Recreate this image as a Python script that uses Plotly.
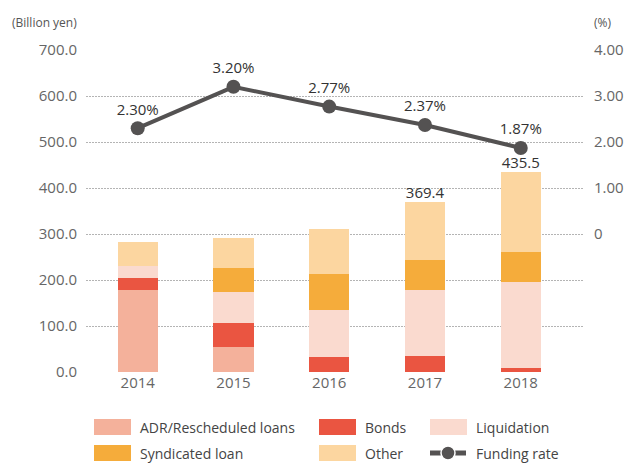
import plotly.graph_objects as go

years = ["2014", "2015", "2016", "2017", "2018"]
adr = [178, 54, 0, 0, 0]
bonds = [26, 52, 33, 34, 8]
liquidation = [27, 67, 101, 144, 187]
syndicated = [0, 54, 78, 65, 65]
other = [51, 64, 99, 126.4, 175.5]
funding_rate = [2.30, 3.20, 2.77, 2.37, 1.87]
total_label_years = ["2017", "2018"]

left_ticks = [0, 100, 200, 300, 400, 500, 600, 700]
right_ticks = [0, 1, 2, 3, 4]
right_ticktext = ["0", "1.00", "2.00", "3.00", "4.00"]

colors = {
    "ADR/Rescheduled loans": "#F4B19B",
    "Bonds": "#EA5541",
    "Liquidation": "#FADACF",
    "Syndicated loan": "#F5AC3B",
    "Other": "#FCD6A0",
}
line_color = "#545252"
FONT = "Open Sans"

W, H = 626, 463
L, R, T, B = 86, 583, 50, 372

fig = go.Figure()
series = [
    ("ADR/Rescheduled loans", adr),
    ("Bonds", bonds),
    ("Liquidation", liquidation),
    ("Syndicated loan", syndicated),
    ("Other", other),
]
for name, vals in series:
    fig.add_trace(go.Bar(x=years, y=vals, name=name, marker_color=colors[name],
                         marker_line_width=0, width=0.42, showlegend=False,
                         hoverinfo="y+name"))

totals = [round(sum(v), 1) for v in zip(adr, bonds, liquidation, syndicated, other)]
tx = [y for y in years if y in total_label_years]
ty = [t for y, t in zip(years, totals) if y in total_label_years]
fig.add_trace(go.Scatter(x=tx, y=ty, mode="text", text=[f"{v:.1f}" for v in ty],
                         textposition="top center", showlegend=False,
                         textfont=dict(family=FONT, size=15, color="#333333")))

fig.add_trace(go.Scatter(x=years, y=funding_rate, yaxis="y2", mode="lines+markers+text",
                         name="Funding rate", line=dict(color=line_color, width=4),
                         marker=dict(size=14, color=line_color),
                         text=[f"{v:.2f}%" for v in funding_rate],
                         textposition="top center",
                         textfont=dict(family=FONT, size=15, color="#333333"),
                         showlegend=False))

fig.update_layout(
    width=W, height=H,
    margin=dict(l=L, r=W - R, t=T, b=H - B, autoexpand=False),
    barmode="stack",
    plot_bgcolor="white", paper_bgcolor="white",
    font=dict(family=FONT, size=15, color="#666666"),
    xaxis=dict(range=[-0.54, 4.65], showgrid=False, showline=False, ticks="",
               automargin=False, tickfont=dict(size=15, color="#666666")),
    yaxis=dict(range=[0, 700], tickvals=left_ticks,
               ticktext=[f"{v:.1f}" for v in left_ticks],
               showgrid=True, gridcolor="#B4B4B4", griddash="1.5px,1.5px", gridwidth=1,
               zeroline=True, zerolinecolor="rgba(0,0,0,0)", automargin=False,
               showline=False, ticks="", ticklabelstandoff=8,
               tickfont=dict(size=15, color="#666666")),
    yaxis2=dict(range=[-3, 4], overlaying="y", side="right", tickvals=right_ticks,
                ticktext=right_ticktext, showgrid=False, zeroline=False, automargin=False,
                showline=False, ticks="", ticklabelstandoff=10,
                tickfont=dict(size=15, color="#666666")),
)

def px(x):
    return (x - L) / (R - L)

def py(y):
    return (B - y) / (B - T)

fig.add_annotation(x=px(10), y=py(22), xref="paper", yref="paper", text="(Billion yen)",
                   showarrow=False, xanchor="left", yanchor="middle",
                   font=dict(size=12, color="#555555", family=FONT))
fig.add_annotation(x=px(592), y=py(22), xref="paper", yref="paper", text="(%)",
                   showarrow=False, xanchor="left", yanchor="middle",
                   font=dict(size=12, color="#555555", family=FONT))

legend_items = [
    ("ADR/Rescheduled loans", 94, 427),
    ("Bonds", 319, 427),
    ("Liquidation", 430, 427),
    ("Syndicated loan", 94, 453),
    ("Other", 319, 453),
    ("Funding rate", 430, 453),
]
for name, x0, yc in legend_items:
    if name == "Funding rate":
        fig.add_shape(type="line", xref="paper", yref="paper",
                      x0=px(x0), x1=px(x0 + 36), y0=py(yc), y1=py(yc),
                      line=dict(color=line_color, width=5))
        fig.add_shape(type="circle", xref="paper", yref="paper",
                      x0=px(x0 + 11), x1=px(x0 + 25), y0=py(yc + 7), y1=py(yc - 7),
                      fillcolor=line_color, line=dict(color="white", width=1.5))
    else:
        fig.add_shape(type="rect", xref="paper", yref="paper",
                      x0=px(x0), x1=px(x0 + 37), y0=py(yc + 8), y1=py(yc - 8),
                      fillcolor=colors[name], line_width=0)
    fig.add_annotation(x=px(x0 + 44), y=py(yc), xref="paper", yref="paper", text=name,
                       showarrow=False, xanchor="left", yanchor="middle",
                       font=dict(size=14, color="#444444", family=FONT))

fig.write_html("out.html", config={"displayModeBar": False},
               post_script="document.body.style.margin='0';document.body.style.overflow='hidden';")
